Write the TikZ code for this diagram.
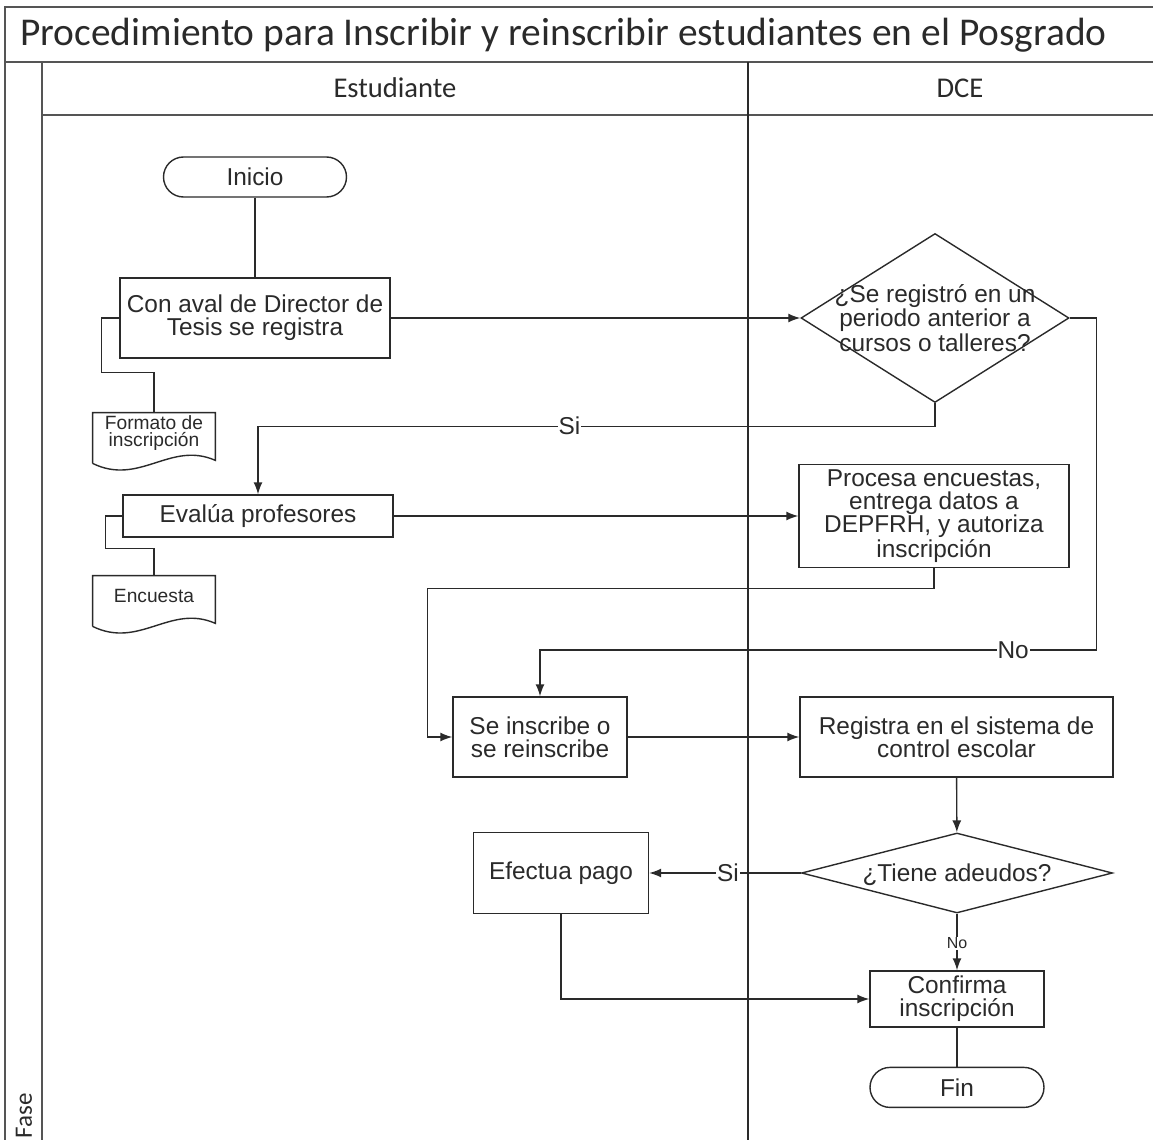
\documentclass[tikz,border=0pt]{standalone}
\usepackage{fontspec}
\setmainfont{Liberation Sans}
\newfontfamily\calibri{Carlito}
\usetikzlibrary{positioning,shapes.geometric,arrows.meta,calc}

\definecolor{ink}{HTML}{2a2a2a}
\definecolor{rule}{HTML}{555555}

% text that may run over the border of a decision
\newcommand{\flattext}[1]{\makebox[0pt]{\smash{\raisebox{-4.7pt}{\begin{tabular}{@{}c@{}}#1\end{tabular}}}}}

% document symbol drawn round a node
\newcommand{\docline}[1]{%
  \draw[line] ($(#1.south west)+(0,10)$) -- (#1.north west) -- (#1.north east)
    -- ($(#1.south east)+(0,7)$)
    .. controls +(-45,-20) and +(47,23) .. ($(#1.south west)+(0,10)$);}

\begin{document}
\begin{tikzpicture}[
    x=0.5pt, y=-0.5pt,
    font=\fontsize{12.2}{11.4}\selectfont,
    text=ink,
    line/.style={draw=ink, line width=0.7pt},
    arrow/.style={line, -{Latex[length=6pt,width=4.5pt]}},
    lane/.style={draw=rule, line width=0.9pt},
    block/.style={
        line,
        minimum width=135pt,
        minimum height=40pt,
        inner sep=1pt,
        align=center
    },
    term/.style={
        line,
        rounded corners=10pt,
        minimum width=91.5pt,
        minimum height=20pt,
        inner sep=1pt
    },
    decision/.style={
        line,
        diamond,
        inner sep=0pt
    },
    doc/.style={
        minimum width=61pt,
        minimum height=20pt,
        inner sep=1pt,
        align=center,
        font=\fontsize{9.6}{8.5}\selectfont
    },
    lbl/.style={fill=white, inner sep=0.5pt},
    head/.style={font=\calibri\fontsize{14.3}{14.3}\selectfont, inner sep=0pt}
]
\useasboundingbox (0,0) rectangle (1153,1140);

% frame and lanes
\draw[lane] (5,1140) -- (5,7) -- (1153,7);
\draw[lane] (5,62) -- (1153,62);
\draw[lane] (42,115) -- (1153,115);
\draw[lane] (42,62) -- (42,1140);
\draw[line] (748,62) -- (748,1140);

\node[head, anchor=west, font=\calibri\fontsize{19.7}{19.7}\selectfont] (title) at (20,35)
    {Procedimiento para Inscribir y reinscribir estudiantes en el Posgrado};
\node[head] (stud) at (395,88) {Estudiante};
\node[head] (dce) at (960,88) {DCE};
\node[head, rotate=90, font=\calibri\fontsize{12.5}{12.5}\selectfont] (fase) at (24,1116) {Fase};

% steps
\node[term] (ini) at (255,177) {Inicio};
\node[block] (reg) at (255,318) {Con aval de Director de\\Tesis se registra};
\node[doc] (fmt) at (154,433) {Formato de\\inscripción};
\node[decision, minimum width=134pt, minimum height=84.5pt] (dia1) at (935,318)
    {\flattext{¿Se registró en un\\periodo anterior a\\cursos o talleres?}};
\node[block, minimum height=21pt] (eval) at (258,516) {Evalúa profesores};
\node[doc] (enc) at (154,596) {Encuesta};
\node[block, minimum height=51.5pt] (proc) at (934,516)
    {Procesa encuestas,\\entrega datos a\\DEPFRH, y autoriza\\inscripción};
\node[block, minimum width=87pt] (insc) at (540,737) {Se inscribe o\\se reinscribe};
\node[block, minimum width=156.5pt] (regs) at (956.5,737) {Registra en el sistema de\\control escolar};
\node[decision, minimum width=155.5pt, minimum height=40pt] (adeu) at (957,873)
    {\flattext{¿Tiene adeudos?}};
\node[block, minimum width=87.5pt, minimum height=40.5pt] (pago) at (561,873) {Efectua pago};
\node[block, minimum width=87pt, minimum height=28pt] (conf) at (957,999) {Confirma\\inscripción};
\node[term, minimum width=87pt, below=19.5pt of conf] (fin) {Fin};

\docline{fmt}
\docline{enc}

% connectors
\draw[line] (ini) -- (reg);
\draw[arrow] (reg) -- (dia1);
\draw[line] (reg.west) -- ++(-18,0) |- ($(fmt.north)+(0,-40)$) -- (fmt.north);
\draw[arrow] (dia1.south) -- ++(0,23) -| node[lbl, pos=0.27] {Si} (eval.north);
\draw[line] (eval.west) -- ++(-17,0) |- ($(enc.north)+(0,-27)$) -- (enc.north);
\draw[arrow] (eval) -- (proc);
\draw[arrow] (proc.south) -- ++(0,20) -| ($(insc.west)+(-25,0)$) -- (insc.west);
\draw[arrow] (dia1.east) -- ++(27,0) -- ++(0,332) -| node[lbl, pos=0.075] {No} (insc.north);
\draw[arrow] (insc) -- (regs);
\draw[arrow] (regs) -- (adeu);
\draw[arrow] (adeu) -- node[lbl, pos=0.48] {Si} (pago);
\draw[arrow] (adeu) -- node[lbl, pos=0.52, font=\fontsize{8}{8}\selectfont] {No} (conf);
\draw[arrow] (pago.south) |- (conf.west);
\draw[line] (conf) -- (fin);

\end{tikzpicture}
\end{document}
